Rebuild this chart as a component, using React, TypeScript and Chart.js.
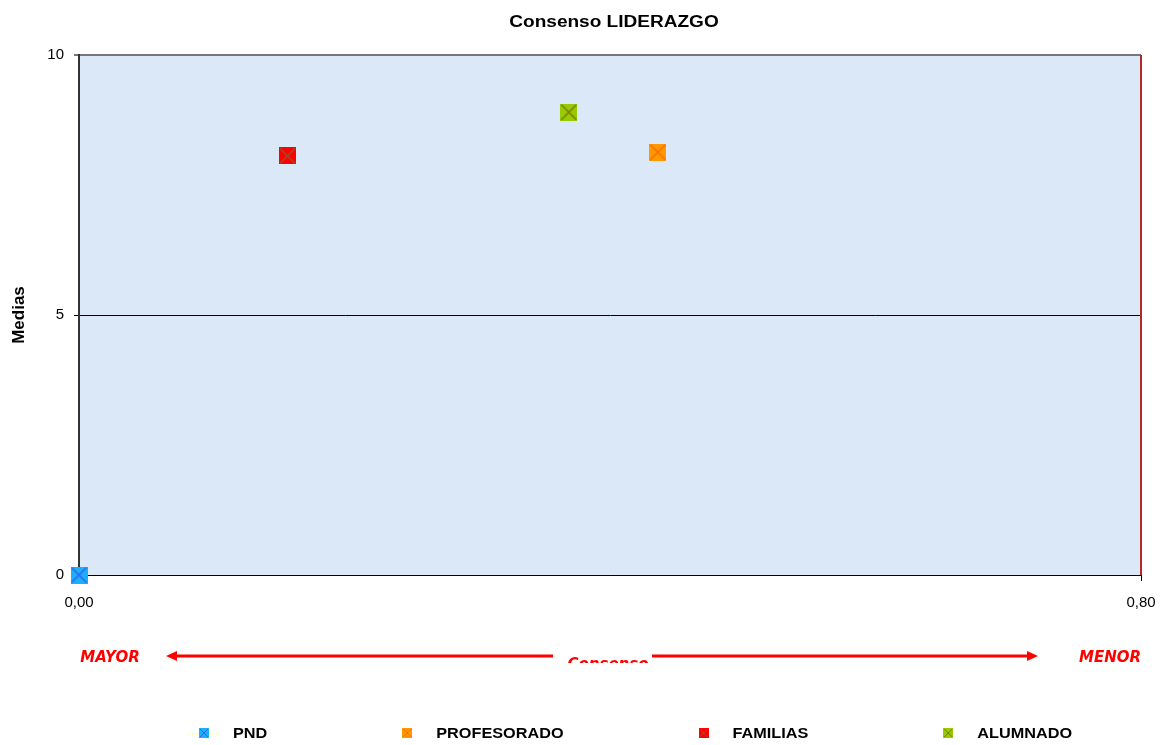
import React, { useEffect, useRef } from "react";
import { Chart, registerables } from "chart.js";

Chart.register(...registerables);

const seriesNames = ["PND", "PROFESORADO", "FAMILIAS", "ALUMNADO"];
const consensoValues = [0.0, 0.436, 0.157, 0.369];
const mediaValues = [0.0, 8.13, 8.06, 8.9];
const fillColors = ["#1ab2f5", "#ff9900", "#ff0000", "#99cc00"];
const crossColors = ["#3b5cff", "#ff6a00", "#99502a", "#7a7a00"];
const xTicks = [0, 0.8];
const yTicks = [0, 5, 10];
const chartTitle = "Consenso LIDERAZGO";
const yTitle = "Medias";
const leftLabel = "MAYOR";
const centerLabel = "Consenso";
const rightLabel = "MENOR";

function makeMarker(size: number, fill: string, cross: string) {
  const c = document.createElement("canvas");
  c.width = size;
  c.height = size;
  const ctx = c.getContext("2d")!;
  ctx.fillStyle = fill;
  ctx.fillRect(0, 0, size, size);
  ctx.strokeStyle = cross;
  ctx.lineWidth = size > 10 ? 1.5 : 1;
  ctx.beginPath();
  ctx.moveTo(1, 1);
  ctx.lineTo(size - 1, size - 1);
  ctx.moveTo(size - 1, 1);
  ctx.lineTo(1, size - 1);
  ctx.stroke();
  return c;
}

function stretchedText(ctx: CanvasRenderingContext2D, text: string, x: number, y: number, sx: number) {
  ctx.save();
  ctx.translate(x, y);
  ctx.scale(sx, 1);
  ctx.fillText(text, 0, 0);
  ctx.restore();
}

export default function App() {
  const ref = useRef<HTMLCanvasElement | null>(null);

  useEffect(() => {
    document.body.style.margin = "0";
    const markers = seriesNames.map((_, i) => makeMarker(17, fillColors[i], crossColors[i]));
    const smallMarkers = seriesNames.map((_, i) => makeMarker(10, fillColors[i], crossColors[i]));

    const decor = {
      id: "decor",
      beforeDraw(chart: any) {
        const { ctx, chartArea: a } = chart;
        ctx.save();
        ctx.fillStyle = "#ffffff";
        ctx.fillRect(0, 0, chart.width, chart.height);
        ctx.fillStyle = "#dbe8f7";
        ctx.fillRect(a.left, a.top, a.right - a.left, a.bottom - a.top);
        ctx.restore();
      },
      afterDraw(chart: any) {
        const { ctx, chartArea: a } = chart;
        ctx.save();
        // right border
        ctx.strokeStyle = "#b02a2a";
        ctx.lineWidth = 2;
        ctx.beginPath();
        ctx.moveTo(a.right, a.top);
        ctx.lineTo(a.right, a.bottom);
        ctx.stroke();
        // title
        ctx.fillStyle = "#000";
        ctx.font = "bold 16px 'Liberation Sans', Arial, sans-serif";
        ctx.textAlign = "center";
        ctx.textBaseline = "middle";
        stretchedText(ctx, chartTitle, 614, 23, 1.19);
        // y title
        ctx.save();
        ctx.translate(19, (a.top + a.bottom) / 2);
        ctx.rotate(-Math.PI / 2);
        ctx.font = "bold 17px 'Liberation Sans', Arial, sans-serif";
        ctx.fillText(yTitle, 0, 0);
        ctx.restore();
        // annotations
        ctx.fillStyle = "#ff0000";
        ctx.strokeStyle = "#ff0000";
        ctx.font = "italic bold 15px 'DejaVu Sans', sans-serif";
        ctx.fillText(leftLabel, 110, 658);
        ctx.fillText(rightLabel, 1110, 658);
        ctx.save();
        ctx.beginPath();
        ctx.rect(540, 640, 130, 23);
        ctx.clip();
        ctx.fillText(centerLabel, 608, 665);
        ctx.restore();
        ctx.lineWidth = 3;
        ctx.beginPath();
        ctx.moveTo(553, 656);
        ctx.lineTo(175, 656);
        ctx.moveTo(652, 656);
        ctx.lineTo(1029, 656);
        ctx.stroke();
        ctx.beginPath();
        ctx.moveTo(166, 656);
        ctx.lineTo(177, 651);
        ctx.lineTo(177, 661);
        ctx.closePath();
        ctx.moveTo(1038, 656);
        ctx.lineTo(1027, 651);
        ctx.lineTo(1027, 661);
        ctx.closePath();
        ctx.fill();
        // legend
        ctx.font = "bold 14px 'Liberation Sans', Arial, sans-serif";
        ctx.textAlign = "left";
        ctx.fillStyle = "#000";
        const sx = 1.16;
        let x = 204;
        const ly = 734;
        seriesNames.forEach((name, i) => {
          if (i === 0) {
            ctx.strokeStyle = "#ffff66";
            ctx.lineWidth = 1;
            ctx.setLineDash([2, 2]);
            ctx.beginPath();
            ctx.moveTo(x - 16, ly);
            ctx.lineTo(x + 16, ly);
            ctx.stroke();
            ctx.setLineDash([]);
          }
          ctx.drawImage(smallMarkers[i], x - 5, ly - 6);
          ctx.fillStyle = "#000";
          stretchedText(ctx, name, x + 29, ly, sx);
          const w = ctx.measureText(name).width * sx;
          x = x + 29 + w + 140;
        });
        ctx.restore();
      },
    };

    const tickFont = { family: "'Liberation Sans', Arial, sans-serif", size: 15 };

    const chart = new Chart(ref.current!, {
      type: "scatter",
      data: {
        datasets: seriesNames.map((name, i) => ({
          label: name,
          data: [{ x: consensoValues[i], y: mediaValues[i] }],
          pointStyle: markers[i] as any,
          backgroundColor: fillColors[i],
          borderColor: crossColors[i],
          clip: false as any,
        })),
      },
      options: {
        animation: false,
        responsive: false,
        maintainAspectRatio: false,
        layout: { padding: { top: 55, right: 20, left: 0, bottom: 0 } },
        plugins: {
          legend: { display: false },
          title: { display: false },
          tooltip: { enabled: false },
        },
        scales: {
          x: {
            type: "linear",
            min: 0,
            max: 0.8,
            afterBuildTicks(s: any) {
              s.ticks = xTicks.map((v) => ({ value: v }));
            },
            afterFit(s: any) {
              s.height = 170;
              s.paddingLeft = 0;
              s.paddingRight = 0;
            },
            ticks: {
              color: "#000",
              font: tickFont,
              padding: 13,
              maxRotation: 0,
              callback: (v: any) => Number(v).toFixed(2).replace(".", ","),
            },
            grid: {
              display: true,
              drawOnChartArea: false,
              drawTicks: true,
              tickLength: 6,
              color: "#000",
            },
            border: { display: true, color: "#000", width: 1 },
          },
          y: {
            type: "linear",
            min: 0,
            max: 10,
            afterBuildTicks(s: any) {
              s.ticks = yTicks.map((v) => ({ value: v }));
            },
            afterFit(s: any) {
              s.width = 79;
            },
            ticks: {
              color: "#000",
              font: tickFont,
              padding: 10,
            },
            grid: {
              display: true,
              drawTicks: true,
              tickLength: 5,
              color: (c: any) => (c.tick && c.tick.value === 10 ? "#777777" : "#000000"),
              lineWidth: (c: any) => (c.tick && c.tick.value === 10 ? 2 : 1),
            },
            border: { display: true, color: "#333", width: 2 },
          },
        },
      },
      plugins: [decor],
    });
    return () => chart.destroy();
  }, []);

  return (
    <div style={{ position: "absolute", left: 0, top: 0, width: 1161, height: 745 }}>
      <canvas ref={ref} width={1161} height={745} style={{ width: 1161, height: 745 }} />
    </div>
  );
}
